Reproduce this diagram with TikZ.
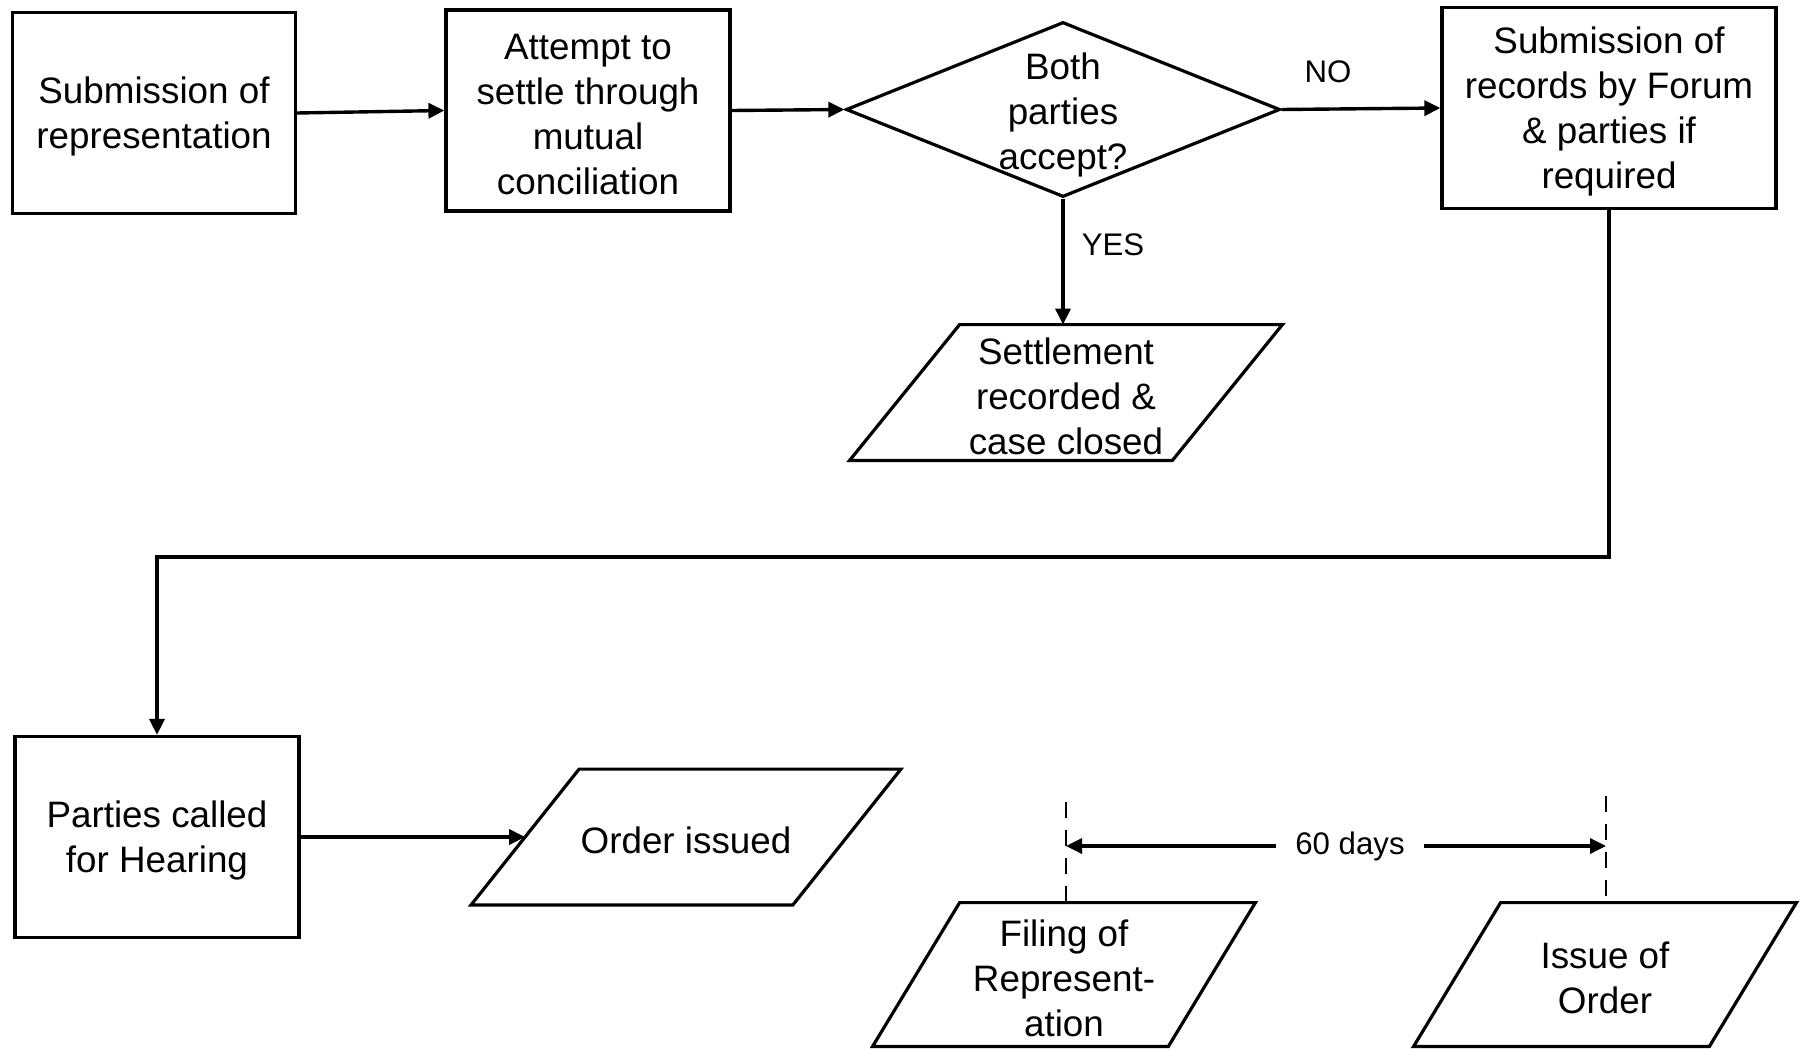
\documentclass[tikz,border=0pt]{standalone}
\usepackage{fontspec}
\setmainfont{Liberation Sans}
\usetikzlibrary{shapes.geometric,arrows.meta}

\newcommand\mainfs{\fontsize{18.4}{22.5}\selectfont}
\newcommand\smallfs{\fontsize{15.6}{18}\selectfont}

% outline of a slanted (parallelogram) box around a node
\newcommand\slantframe[2]{%
  \draw[outline] ([xshift=#2]#1.north west) -- ([xshift=#2]#1.north east)
    -- ([xshift=-#2]#1.south east) -- ([xshift=-#2]#1.south west) -- cycle;}

\tikzset{
  caption/.style={align=center, font=\mainfs, inner sep=0pt},
  says/.style={label={[caption, yshift=-1.9pt]center:{#1}}},
  box/.style={draw, line width=1.6pt, minimum width=142pt,
    minimum height=100.5pt, inner sep=0pt},
  decision/.style={draw, diamond, line width=1.6pt, minimum width=217pt,
    minimum height=87.5pt, inner sep=0pt},
  slantholder/.style={inner sep=0pt},
  flow/.style={line width=1.7pt, -{Triangle[length=8pt,width=7.5pt]}},
  tag/.style={font=\smallfs, inner sep=0pt},
  guide/.style={line width=1.35pt, dash pattern=on 8pt off 6pt},
  outline/.style={line width=1.6pt, line join=miter}
}

\begin{document}
\begin{tikzpicture}[x=0.5pt, y=-0.5pt]
\useasboundingbox (0,0) rectangle (1809,1049);

% main process steps
\node[box, minimum width=141.5pt, says={Submission of\\representation}] (rep) at (154,113) {};
\node[box, says={Attempt to\\settle through\\mutual\\conciliation}] (concil) at (588,110.5) {};
\node[decision, label={[caption, yshift=-2.9pt]center:{Both\\parties\\accept?}}] (accept) at (1063,109.5) {};
\node[box, minimum width=167pt, says={Submission of\\records by Forum\\\& parties if\\required}] (records) at (1609,108) {};

\node[slantholder, minimum width=161pt, minimum height=67.5pt,
  says={Settlement\\recorded \&\\case closed}] (settle) at (1066,392.5) {};
\slantframe{settle}{27.5pt}

\node[box, says={Parties called\\for Hearing}] (hearing) at (157,837) {};
\node[slantholder, minimum width=160.5pt, minimum height=67.5pt,
  says={Order issued}] (order) at (686,837) {};
\slantframe{order}{27pt}

% time limit
\node[slantholder, minimum width=147.5pt, minimum height=71.5pt,
  says={Filing of\\Represent-\\ation}] (filing) at (1064,974.5) {};
\slantframe{filing}{21.75pt}
\node[slantholder, minimum width=147.5pt, minimum height=71.5pt,
  says={Issue of\\Order}] (issue) at (1605,974.5) {};
\slantframe{issue}{21.75pt}

% connectors
\draw[flow] (rep.east) -- (concil.west);
\draw[flow] (concil.east) -- (accept.west);
\draw[flow] (accept.east) -- (records.west);
\draw[flow] (accept.south) -- (settle.north -| accept.south);
\draw[flow] (records.south) -- (records.south |- 0,557) -| (hearing.north);
\draw[flow] (hearing.east) -- (order.west);

\node[tag] (no) at (1328,72) {NO};
\node[tag] (yes) at (1113,245) {YES};

% 60-day span
\coordinate (fromtop) at (1066,802);
\coordinate (totop) at (1606,796);
\draw[guide] (fromtop) -- (fromtop |- filing.north);
\draw[guide] (totop) -- (totop |- issue.north);
\node[tag, inner xsep=9.5pt] (days) at (1350,846) {60 days};
\draw[flow] (days.west) -- (days.west -| fromtop);
\draw[flow] (days.east) -- (days.east -| totop);
\end{tikzpicture}
\end{document}
